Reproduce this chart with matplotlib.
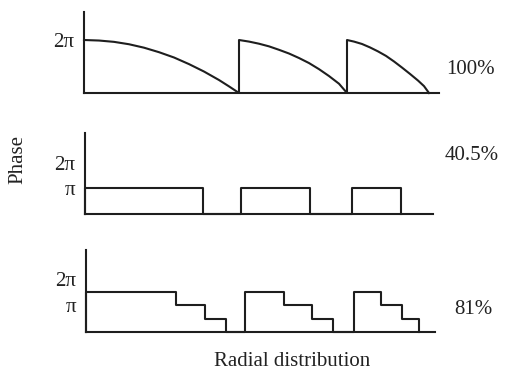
import matplotlib.pyplot as plt

# radial positions (arbitrary units, measured from the axis) and phase in units of pi
kino_r = [0, 15, 30, 45, 60, 75, 90, 105, 120, 135, 145, 155,
          155, 165, 175, 185, 195, 205, 215, 225, 235, 245, 255, 263,
          263, 270, 278, 286, 294, 302, 310, 318, 326, 334, 340, 345]
kino_phase = [2.0, 1.98, 1.93, 1.84, 1.71, 1.54, 1.34, 1.09, 0.81, 0.49, 0.25, 0.0,
              2.0, 1.94, 1.86, 1.76, 1.63, 1.49, 1.32, 1.13, 0.90, 0.64, 0.35, 0.0,
              2.0, 1.94, 1.85, 1.72, 1.57, 1.40, 1.19, 0.96, 0.72, 0.47, 0.26, 0.0]

# binary (2-level) zones: start, end
bin_start = [0, 156, 267]
bin_end = [118, 225, 316]
bin_level = 1.0

# 4-level zones: start and the end of each step
quad_start = [0, 159, 268]
quad_steps = [[90, 119, 140], [198, 226, 247], [295, 316, 333]]
quad_levels = [1.5, 1.0, 0.5]

labels = ['100%', '40.5%', '81%']

W, H = 510, 374
plt.rcParams['font.family'] = ['Liberation Serif', 'DejaVu Serif']
fig = plt.figure(figsize=(W / 100, H / 100), dpi=100)

ink = '#1e1e1e'
lw = 1.5


def make_ax(left, right, top, bottom, ymax, xmax):
    ax = fig.add_axes([left / W, 1 - bottom / H, (right - left) / W, (bottom - top) / H])
    ax.set_xlim(0, xmax)
    ax.set_ylim(0, ymax)
    for s in ['top', 'right']:
        ax.spines[s].set_visible(False)
    for s in ['left', 'bottom']:
        ax.spines[s].set_linewidth(lw)
        ax.spines[s].set_color(ink)
    ax.set_xticks([])
    ax.tick_params(axis='y', length=0, pad=7, labelsize=15, labelcolor='#222222')
    return ax


# panel 1: continuous kinoform
ax1 = make_ax(84, 439, 12, 93, 81 / 26.5, 355)
ax1.plot(kino_r, kino_phase, color=ink, lw=lw, clip_on=False)
ax1.set_yticks([2])
ax1.set_yticklabels(['2π'])

# panel 2: binary
ax2 = make_ax(85, 433, 133, 214, 81 / 25.5, 348)
xs, ys = [], []
for s, e in zip(bin_start, bin_end):
    xs += [s, s, e, e]
    ys += [0, bin_level, bin_level, 0]
ax2.plot(xs, ys, color=ink, lw=lw, clip_on=False)
ax2.set_yticks([1, 2])
ax2.set_yticklabels(['π', '2π'])

# panel 3: four levels
ax3 = make_ax(86, 435, 250, 332, 82 / 26.7, 349)
xs, ys = [], []
for s, steps in zip(quad_start, quad_steps):
    xs += [s, s]
    ys += [0, quad_levels[0]]
    for i, e in enumerate(steps):
        xs += [e, e]
        nxt = quad_levels[i + 1] if i + 1 < len(quad_levels) else 0
        ys += [quad_levels[i], nxt]
ax3.plot(xs, ys, color=ink, lw=lw, clip_on=False)
ax3.set_yticks([1, 2])
ax3.set_yticklabels(['π', '2π'])

# efficiency labels
for (x, y), t in zip([(470, 70), (472, 155), (473, 310)], labels):
    fig.text(x / W, 1 - y / H, t, ha='center', va='center', fontsize=15, color='#222222')

fig.text(18 / W, 1 - 160 / H, 'Phase', rotation=90, ha='center', va='center',
         fontsize=15, color='#222222')
fig.text(292 / W, 1 - 362 / H, 'Radial distribution', ha='center', va='center',
         fontsize=15, color='#222222')

fig.savefig('out.png', dpi=100)
